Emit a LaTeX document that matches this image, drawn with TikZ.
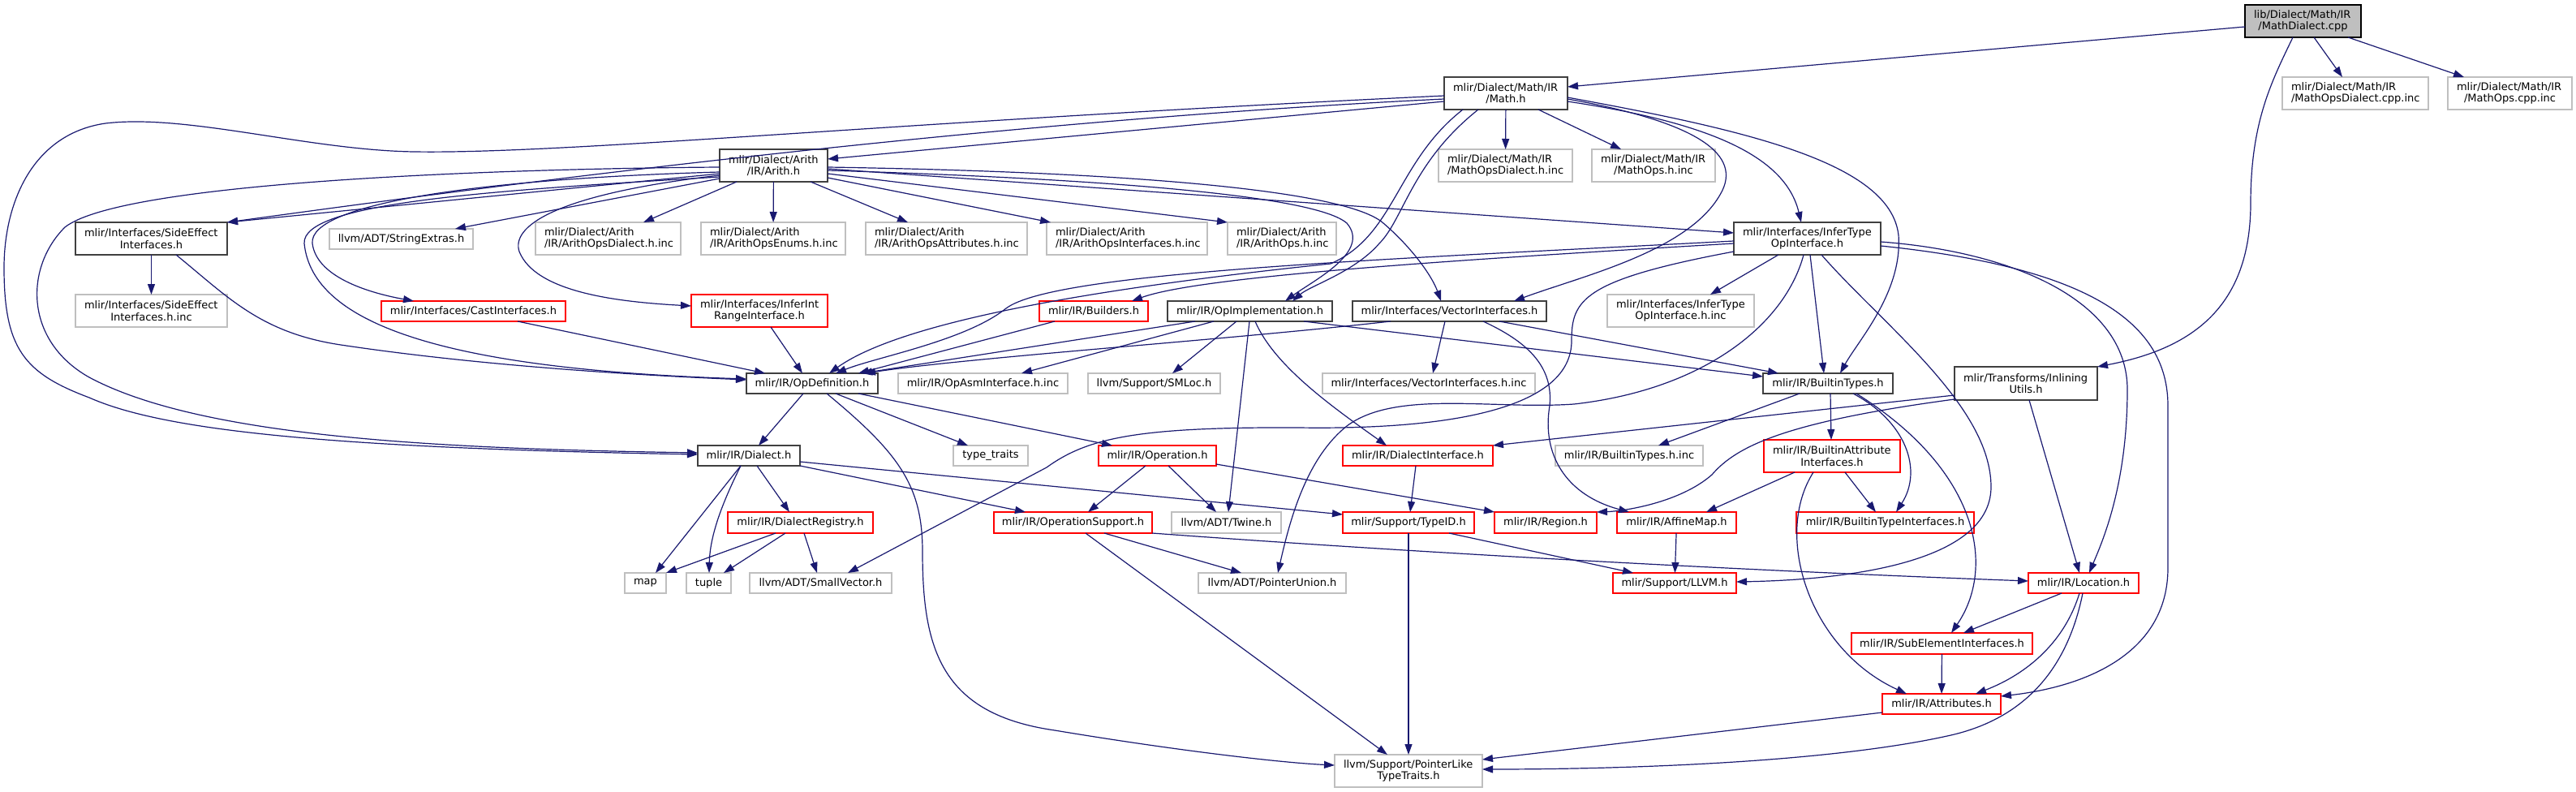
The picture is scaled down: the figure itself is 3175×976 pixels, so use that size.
\documentclass[tikz,border=0pt]{standalone}
\usepackage{fontspec}
\setmainfont{DejaVu Sans}
\usetikzlibrary{arrows.meta}
\definecolor{bdk}{HTML}{404040}
\definecolor{gry}{HTML}{BFBFBF}
\definecolor{rdd}{HTML}{FF0000}
\definecolor{edg}{HTML}{191970}
\newcommand\nda[7]{%
 \pgfmathsetmacro\ndw{#5-#3}\pgfmathsetmacro\ndh{#6-#4}%
 \pgfmathsetmacro\ndx{(#3+#5)/2}\pgfmathsetmacro\ndy{(#4+#6)/2}%
 \node[#1,minimum width=\ndw pt,minimum height=\ndh pt] (#2) at (\ndx,\ndy) {#7};}
\newcommand\ndb[8]{%
 \pgfmathsetmacro\ndw{#5-#3}\pgfmathsetmacro\ndh{#6-#4}%
 \pgfmathsetmacro\ndx{(#3+#5)/2}\pgfmathsetmacro\ndy{(#4+#6)/2}%
 \pgfmathsetmacro\ndt{#5-#3-22}%
 \node[#1,minimum width=\ndw pt,minimum height=\ndh pt,text width=\ndt pt,align=center] (#2) at (\ndx,\ndy) {\makebox[\hsize][l]{#7}\\#8};}
\tikzset{
 box/.style={rectangle,inner sep=0pt,outer sep=0pt,font=\fontsize{13}{14.5}\selectfont,text=black},
 root/.style={box,draw=black,fill=gry,line width=1.5pt},
 blk/.style={box,draw=bdk,line width=1.5pt},
 red/.style={box,draw=rdd,line width=1.5pt},
 gray/.style={box,draw=gry,line width=1.3pt},
 e/.style={draw=edg,line width=1.2pt,-{Triangle[length=13pt,width=9pt]}}
}
\begin{document}
\begin{tikzpicture}[x=1pt,y=-1pt]
\useasboundingbox (0,0) rectangle (3175,976);
% ---------- nodes ----------
\ndb{root}{mdcpp}{2767}{6}{2910}{46}{lib/Dialect/Math/IR}{/MathDialect.cpp}
\ndb{blk}{mathh}{1780}{95}{1932}{135}{mlir/Dialect/Math/IR}{/Math.h}
\ndb{gray}{mdcppinc}{2813}{95}{2993}{135}{mlir/Dialect/Math/IR}{/MathOpsDialect.cpp.inc}
\ndb{gray}{mocppinc}{3017}{95}{3170}{135}{mlir/Dialect/Math/IR}{/MathOps.cpp.inc}
\ndb{blk}{arith}{887}{184}{1020}{224}{mlir/Dialect/Arith}{/IR/Arith.h}
\ndb{gray}{mdhinc}{1773}{184}{1938}{224}{mlir/Dialect/Math/IR}{/MathOpsDialect.h.inc}
\ndb{gray}{mohinc}{1962}{184}{2114}{224}{mlir/Dialect/Math/IR}{/MathOps.h.inc}
\ndb{blk}{side}{93}{274}{280}{314}{mlir/Interfaces/SideEffect}{Interfaces.h}
\nda{gray}{strext}{406}{282}{583}{307}{llvm/ADT/StringExtras.h}
\ndb{gray}{aodinc}{660}{274}{839}{314}{mlir/Dialect/Arith}{/IR/ArithOpsDialect.h.inc}
\ndb{gray}{aoeinc}{864}{274}{1042}{314}{mlir/Dialect/Arith}{/IR/ArithOpsEnums.h.inc}
\ndb{gray}{aoainc}{1067}{274}{1266}{314}{mlir/Dialect/Arith}{/IR/ArithOpsAttributes.h.inc}
\ndb{gray}{aoiinc}{1290}{274}{1488}{314}{mlir/Dialect/Arith}{/IR/ArithOpsInterfaces.h.inc}
\ndb{gray}{aoinc}{1513}{274}{1647}{314}{mlir/Dialect/Arith}{/IR/ArithOps.h.inc}
\ndb{blk}{infer}{2137}{274}{2318}{314}{mlir/Interfaces/InferType}{OpInterface.h}
\ndb{gray}{sideinc}{93}{363}{280}{403}{mlir/Interfaces/SideEffect}{Interfaces.h.inc}
\nda{red}{cast}{470}{371}{697}{396}{mlir/Interfaces/CastInterfaces.h}
\ndb{red}{iir}{852}{363}{1020}{403}{mlir/Interfaces/InferInt}{RangeInterface.h}
\nda{red}{builders}{1281}{371}{1415}{396}{mlir/IR/Builders.h}
\nda{blk}{opimpl}{1439}{371}{1642}{396}{mlir/IR/OpImplementation.h}
\nda{blk}{vec}{1667}{371}{1906}{396}{mlir/Interfaces/VectorInterfaces.h}
\ndb{gray}{inferinc}{1981}{363}{2162}{403}{mlir/Interfaces/InferType}{OpInterface.h.inc}
\ndb{blk}{inl}{2409}{452}{2585}{493}{mlir/Transforms/Inlining}{Utils.h}
\nda{blk}{opdef}{920}{460}{1082}{485}{mlir/IR/OpDefinition.h}
\nda{gray}{opasm}{1107}{460}{1316}{485}{mlir/IR/OpAsmInterface.h.inc}
\nda{gray}{smloc}{1341}{460}{1504}{485}{llvm/Support/SMLoc.h}
\nda{gray}{vecinc}{1630}{460}{1892}{485}{mlir/Interfaces/VectorInterfaces.h.inc}
\nda{blk}{btypes}{2173}{460}{2333}{485}{mlir/IR/BuiltinTypes.h}
\nda{blk}{dialect}{860}{549}{986}{574}{mlir/IR/Dialect.h}
\nda{gray}{tt}{1175}{549}{1267}{574}{type\_traits}
\nda{red}{op}{1354}{549}{1499}{574}{mlir/IR/Operation.h}
\nda{red}{dint}{1655}{549}{1840}{574}{mlir/IR/DialectInterface.h}
\nda{gray}{btinc}{1917}{549}{2099}{574}{mlir/IR/BuiltinTypes.h.inc}
\ndb{red}{bai}{2174}{542}{2342}{582}{mlir/IR/BuiltinAttribute}{Interfaces.h}
\nda{red}{dreg}{897}{631}{1076}{657}{mlir/IR/DialectRegistry.h}
\nda{red}{opsup}{1225}{631}{1420}{657}{mlir/IR/OperationSupport.h}
\nda{gray}{twine}{1444}{631}{1579}{657}{llvm/ADT/Twine.h}
\nda{red}{typeid}{1655}{631}{1817}{657}{mlir/Support/TypeID.h}
\nda{red}{region}{1842}{631}{1968}{657}{mlir/IR/Region.h}
\nda{red}{affine}{1993}{631}{2140}{657}{mlir/IR/AffineMap.h}
\nda{red}{bti}{2214}{631}{2433}{657}{mlir/IR/BuiltinTypeInterfaces.h}
\nda{gray}{map}{770}{706}{821}{731}{map}
\nda{gray}{tuple}{846}{706}{901}{731}{tuple}
\nda{gray}{smallvec}{924}{706}{1099}{731}{llvm/ADT/SmallVector.h}
\nda{gray}{punion}{1477}{706}{1659}{731}{llvm/ADT/PointerUnion.h}
\nda{red}{llvm}{1988}{706}{2140}{731}{mlir/Support/LLVM.h}
\nda{red}{loc}{2500}{706}{2636}{731}{mlir/IR/Location.h}
\nda{red}{subel}{2282}{780}{2505}{806}{mlir/IR/SubElementInterfaces.h}
\nda{red}{attr}{2320}{855}{2466}{880}{mlir/IR/Attributes.h}
\ndb{gray}{plt}{1645}{930}{1827}{970}{llvm/Support/PointerLike}{TypeTraits.h}
% ---------- edges ----------
% root
\draw[e] (mdcpp.west |- 0,33) -- (mathh.east |- 0,107);
\draw[e] (mdcpp.south -| 2852,0) -- (mdcppinc.north -| 2887,0);
\draw[e] (mdcpp.south -| 2894,0) -- (mocppinc.north -| 3037,0);
\draw[e] (mdcpp.south -| 2826,0) .. controls (2800,100) and (2774,150) .. (2774,250) .. controls (2774,380) and (2700,430) .. (inl.north east);
% Math.h
\draw[e] (mathh.west |- 0,125) -- (arith.east |- 0,196);
\draw[e] (mathh.west |- 0,118) .. controls (1100,150) and (700,190) .. (510,187) .. controls (380,185) and (230,140) .. (130,152) .. controls (40,165) and (5,250) .. (5,330) .. controls (5,430) and (30,460) .. (110,490) .. controls (200,530) and (400,552) .. (dialect.west |- 0,560);
\draw[e] (mathh.west |- 0,122) .. controls (1200,150) and (600,230) .. (side.north east);
\draw[e] (mathh.south -| 1803,0) .. controls (1720,200) and (1720,290) .. (1640,325) .. controls (1400,350) and (1120,390) .. (opdef.north -| 1022,0);
\draw[e] (mathh.south -| 1822,0) .. controls (1740,200) and (1730,270) .. (1700,300) .. controls (1670,335) and (1615,352) .. (opimpl.north -| 1593,0);
\draw[e] (mathh) -- (mdhinc);
\draw[e] (mathh.south -| 1896,0) -- (mohinc.north -| 1998,0);
\draw[e] (mathh.east |- 0,122) .. controls (2090,150) and (2150,190) .. (2120,240) .. controls (2080,310) and (1950,340) .. (vec.north -| 1866,0);
\draw[e] (mathh.east |- 0,125) .. controls (2100,150) and (2200,190) .. (infer.north -| 2220,0);
\draw[e] (mathh.east |- 0,120) .. controls (2150,160) and (2330,200) .. (2340,290) .. controls (2345,360) and (2290,420) .. (btypes.north -| 2268,0);
% Arith.h
\draw[e] (arith.west |- 0,214) -- (side.north east);
\draw[e] (arith.west |- 0,206) .. controls (600,208) and (150,225) .. (80,280) .. controls (30,330) and (30,420) .. (110,465) .. controls (250,540) and (550,553) .. (dialect.west |- 0,558);
\draw[e] (arith.west |- 0,218) .. controls (600,235) and (372,250) .. (375,300) .. controls (385,400) and (550,455) .. (opdef.west |- 0,467);
\draw[e] (arith.west |- 0,212) .. controls (600,220) and (380,250) .. (385,300) .. controls (390,340) and (450,360) .. (cast.north -| 510,0);
\draw[e] (arith.west |- 0,216) .. controls (680,240) and (630,280) .. (640,310) .. controls (660,360) and (760,372) .. (iir.west |- 0,377);
\draw[e] (arith.west |- 0,220) -- (strext.north -| 561,0);
\draw[e] (arith.south -| 908,0) -- (aodinc.north -| 793,0);
\draw[e] (arith) -- (aoeinc);
\draw[e] (arith.south -| 999,0) -- (aoainc.north -| 1119,0);
\draw[e] (arith.east |- 0,219) -- (aoiinc.north -| 1295,0);
\draw[e] (arith.east |- 0,214) -- (aoinc.north west);
\draw[e] (arith.east |- 0,208) -- (infer.west |- 0,287);
\draw[e] (arith.east |- 0,210) .. controls (1350,220) and (1620,240) .. (1660,275) .. controls (1690,310) and (1620,345) .. (opimpl.north -| 1584,0);
\draw[e] (arith.east |- 0,206) .. controls (1400,212) and (1660,235) .. (1705,275) .. controls (1740,305) and (1765,340) .. (vec.north -| 1776,0);
% SideEffect
\draw[e] (side) -- (sideinc);
\draw[e] (side.south -| 217,0) .. controls (280,365) and (320,410) .. (420,425) .. controls (600,452) and (800,463) .. (opdef.west |- 0,468);
% row 4 -> OpDefinition
\draw[e] (cast.south -| 638,0) -- (opdef.north -| 943,0);
\draw[e] (iir.south -| 950,0) -- (opdef.north -| 989,0);
\draw[e] (builders.south -| 1300,0) -- (opdef.north -| 1058,0);
\draw[e] (opimpl.south -| 1473,0) -- (opdef.north -| 1062,0);
\draw[e] (vec.south -| 1714,0) .. controls (1500,420) and (1200,440) .. (opdef.north -| 1066,0);
% InferTypeOpInterface
\draw[e] (infer.west |- 0,297) .. controls (1700,320) and (1300,335) .. (1240,380) .. controls (1190,420) and (1080,440) .. (opdef.north -| 1030,0);
\draw[e] (infer.west |- 0,300) .. controls (1800,320) and (1480,340) .. (builders.north -| 1395,0);
\draw[e] (infer.south -| 2192,0) -- (inferinc.north -| 2108,0);
\draw[e] (infer.south -| 2231,0) -- (btypes.north -| 2248,0);
\draw[e] (infer.west |- 0,310) .. controls (1950,345) and (1937,370) .. (1937,420) .. controls (1937,500) and (1800,530) .. (1600,527) .. controls (1400,526) and (1340,540) .. (1290,576) -- (smallvec.north -| 1045,0);
\draw[e] (infer.south -| 2223,0) .. controls (2200,400) and (2100,480) .. (1940,498) .. controls (1840,505) and (1720,480) .. (1660,525) .. controls (1610,565) and (1590,640) .. (punion.north -| 1575,0);
\draw[e] (infer.east |- 0,298) .. controls (2480,310) and (2622,370) .. (2622,480) .. controls (2622,600) and (2590,670) .. (loc.north -| 2575,0);
\draw[e] (infer.east |- 0,303) .. controls (2580,330) and (2672,400) .. (2672,500) -- (2672,700) .. controls (2672,800) and (2580,845) .. (attr.east |- 0,858);
\draw[e] (infer.south -| 2245,0) .. controls (2320,400) and (2454,500) .. (2454,600) .. controls (2454,700) and (2250,715) .. (llvm.east |- 0,717);
% OpImplementation
\draw[e] (opimpl.south -| 1496,0) -- (opasm.north -| 1259,0);
\draw[e] (opimpl.south -| 1524,0) -- (smloc.north -| 1445,0);
\draw[e] (opimpl.south -| 1540,0) -- (twine.north -| 1514,0);
\draw[e] (opimpl.south -| 1547,0) .. controls (1570,450) and (1640,500) .. (dint.north -| 1709,0);
\draw[e] (opimpl.south -| 1607,0) -- (btypes.west |- 0,464);
% VectorInterfaces
\draw[e] (vec.south -| 1781,0) -- (vecinc.north -| 1766,0);
\draw[e] (vec.south -| 1848,0) -- (btypes.north -| 2192,0);
\draw[e] (vec.south -| 1828,0) .. controls (1880,420) and (1915,450) .. (1910,500) .. controls (1900,560) and (1930,610) .. (affine.north -| 2008,0);
% BuiltinTypes
\draw[e] (btypes.south -| 2218,0) -- (btinc.north -| 2044,0);
\draw[e] (btypes.south -| 2256,0) -- (bai.north -| 2257,0);
\draw[e] (btypes.south -| 2284,0) .. controls (2350,520) and (2370,580) .. (bti.north -| 2337,0);
\draw[e] (btypes.south -| 2288,0) .. controls (2440,580) and (2460,700) .. (subel.north -| 2405,0);
% BuiltinAttributeInterfaces
\draw[e] (bai.south -| 2212,0) -- (affine.north -| 2103,0);
\draw[e] (bai.south -| 2274,0) -- (bti.north -| 2312,0);
\draw[e] (bai.south -| 2235,0) .. controls (2185,660) and (2230,800) .. (attr.north -| 2350,0);
% InliningUtils
\draw[e] (inl.west |- 0,487) -- (dint.north east);
\draw[e] (inl.west |- 0,492) .. controls (2200,520) and (2140,550) .. (2110,585) .. controls (2070,620) and (2000,630) .. (region.north east);
\draw[e] (inl.south -| 2501,0) -- (loc.north -| 2563,0);
% Location
\draw[e] (loc.south -| 2541,0) -- (subel.north -| 2420,0);
\draw[e] (loc.south -| 2563,0) .. controls (2545,790) and (2500,830) .. (attr.north -| 2435,0);
\draw[e] (loc.south -| 2567,0) .. controls (2545,840) and (2480,890) .. (2400,907) .. controls (2250,940) and (2000,948) .. (plt.east |- 0,948);
\draw[e] (subel) -- (attr);
\draw[e] (attr.west |- 0,878) -- (plt.east |- 0,936);
% OpDefinition
\draw[e] (opdef.south -| 990,0) -- (dialect.north -| 935,0);
\draw[e] (opdef.south -| 1030,0) -- (tt.north -| 1193,0);
\draw[e] (opdef.south -| 1058,0) -- (op.north -| 1371,0);
\draw[e] (opdef.south -| 1019,0) .. controls (1110,560) and (1137,600) .. (1137,680) .. controls (1137,800) and (1160,880) .. (1300,900) .. controls (1450,925) and (1580,940) .. (plt.west |- 0,943);
% Dialect
\draw[e] (dialect.south -| 913,0) -- (map.north -| 808,0);
\draw[e] (dialect.south -| 913,0) .. controls (890,620) and (875,660) .. (tuple.north -| 874,0);
\draw[e] (dialect.south -| 933,0) -- (dreg.north -| 973,0);
\draw[e] (dialect.south east) -- (opsup.north -| 1264,0);
\draw[e] (dialect.east |- 0,569) -- (typeid.west |- 0,634);
% DialectRegistry
\draw[e] (dreg.south -| 956,0) -- (map.north east);
\draw[e] (dreg.south -| 968,0) -- (tuple.north -| 892,0);
\draw[e] (dreg.south -| 991,0) -- (smallvec.north -| 1007,0);
% Operation
\draw[e] (op.south -| 1412,0) -- (opsup.north -| 1341,0);
\draw[e] (op.south -| 1440,0) -- (twine.north -| 1499,0);
\draw[e] (op.east |- 0,572) -- (region.north west);
% OperationSupport
\draw[e] (opsup.south -| 1361,0) -- (punion.north -| 1530,0);
\draw[e] (opsup.south -| 1338,0) -- (plt.north -| 1710,0);
\draw[e] (opsup.south east) .. controls (1800,685) and (2200,705) .. (loc.west |- 0,716);
% others
\draw[e] (dint.south -| 1745,0) -- (typeid.north -| 1738,0);
\draw[e] (typeid) -- (plt);
\draw[e] (typeid.south -| 1786,0) -- (llvm.north -| 2013,0);
\draw[e] (affine) -- (llvm);
\end{tikzpicture}
\end{document}
